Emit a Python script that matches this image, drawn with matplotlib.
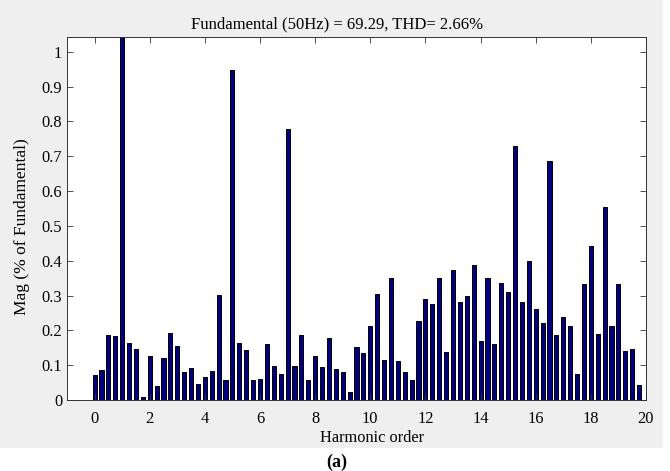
import matplotlib
matplotlib.use("Agg")
import matplotlib.pyplot as plt
from matplotlib.patches import Rectangle
import numpy as np

plt.rcParams['font.family'] = ['Liberation Serif', 'DejaVu Serif']

# Harmonic orders (0 to 19.75 in steps of 0.25)
harmonic_order = [i * 0.25 for i in range(80)]
# Magnitude (% of fundamental)
magnitude = [
    0.073, 0.087, 0.187, 0.185, 100.0, 0.165, 0.145, 0.008,
    0.126, 0.039, 0.122, 0.193, 0.154, 0.079, 0.091, 0.046,
    0.065, 0.082, 0.301, 0.056, 0.948, 0.165, 0.143, 0.056,
    0.060, 0.161, 0.097, 0.075, 0.778, 0.097, 0.187, 0.056,
    0.126, 0.094, 0.179, 0.089, 0.080, 0.022, 0.152, 0.134,
    0.213, 0.304, 0.114, 0.351, 0.111, 0.080, 0.056, 0.228,
    0.291, 0.276, 0.349, 0.138, 0.372, 0.280, 0.300, 0.387,
    0.169, 0.349, 0.161, 0.337, 0.309, 0.729, 0.282, 0.399,
    0.261, 0.222, 0.686, 0.187, 0.237, 0.213, 0.075, 0.332,
    0.442, 0.189, 0.555, 0.213, 0.332, 0.141, 0.145, 0.044,
]
title_text = "Fundamental (50Hz) = 69.29, THD= 2.66%"
xticks = list(range(0, 21, 2))
yticks = [0, 0.1, 0.2, 0.3, 0.4, 0.5, 0.6, 0.7, 0.8, 0.9, 1]
ytick_labels = ["0", "0.1", "0.2", "0.3", "0.4", "0.5", "0.6", "0.7", "0.8", "0.9", "1"]

fig = plt.figure(figsize=(6.70, 4.71), dpi=100)
fig.patch.set_facecolor('white')
fig.patches.append(Rectangle((0, (471 - 448) / 471), 663 / 670, 448 / 471,
                             transform=fig.transFigure, facecolor='#efefef',
                             edgecolor='none', zorder=-10))

ax = fig.add_axes([67 / 670, (471 - 400) / 471, 579 / 670, 363.3 / 471])
ax.set_facecolor('white')
ax.bar(harmonic_order, magnitude, width=0.15, color='#000080',
       edgecolor='black', linewidth=0.7)
ax.set_xlim(-1, 20)
ax.set_ylim(0, 1.043)
ax.set_xticks(xticks)
ax.set_yticks(yticks)
ax.set_yticklabels(ytick_labels)
ax.tick_params(direction='in', top=True, right=True, length=4, width=0.6,
               labelsize=11.8, color='#333333')
ax.tick_params(axis='x', pad=8)
ax.tick_params(axis='y', pad=3.5)
for s in ax.spines.values():
    s.set_linewidth(0.7)
    s.set_color('#333333')

ax.set_title(title_text, fontsize=12, pad=6, x=(337 - 67) / 579)
ax.set_xlabel("Harmonic order", fontsize=11.8)
ax.xaxis.set_label_coords((372 - 67) / 579, -(438 - 400) / 363.3)
ax.xaxis.label.set_va('center')
ax.set_ylabel("Mag (% of Fundamental)", fontsize=12.5)
ax.yaxis.set_label_coords(-(67 - 22) / 579, (400 - 227) / 363.3)
ax.yaxis.label.set_va('center')

fig.text(337 / 670, 1 - 462 / 471, "(a)", fontsize=13, fontweight='bold',
         ha='center', va='center')

fig.savefig("out.png", dpi=100, facecolor=fig.get_facecolor())
